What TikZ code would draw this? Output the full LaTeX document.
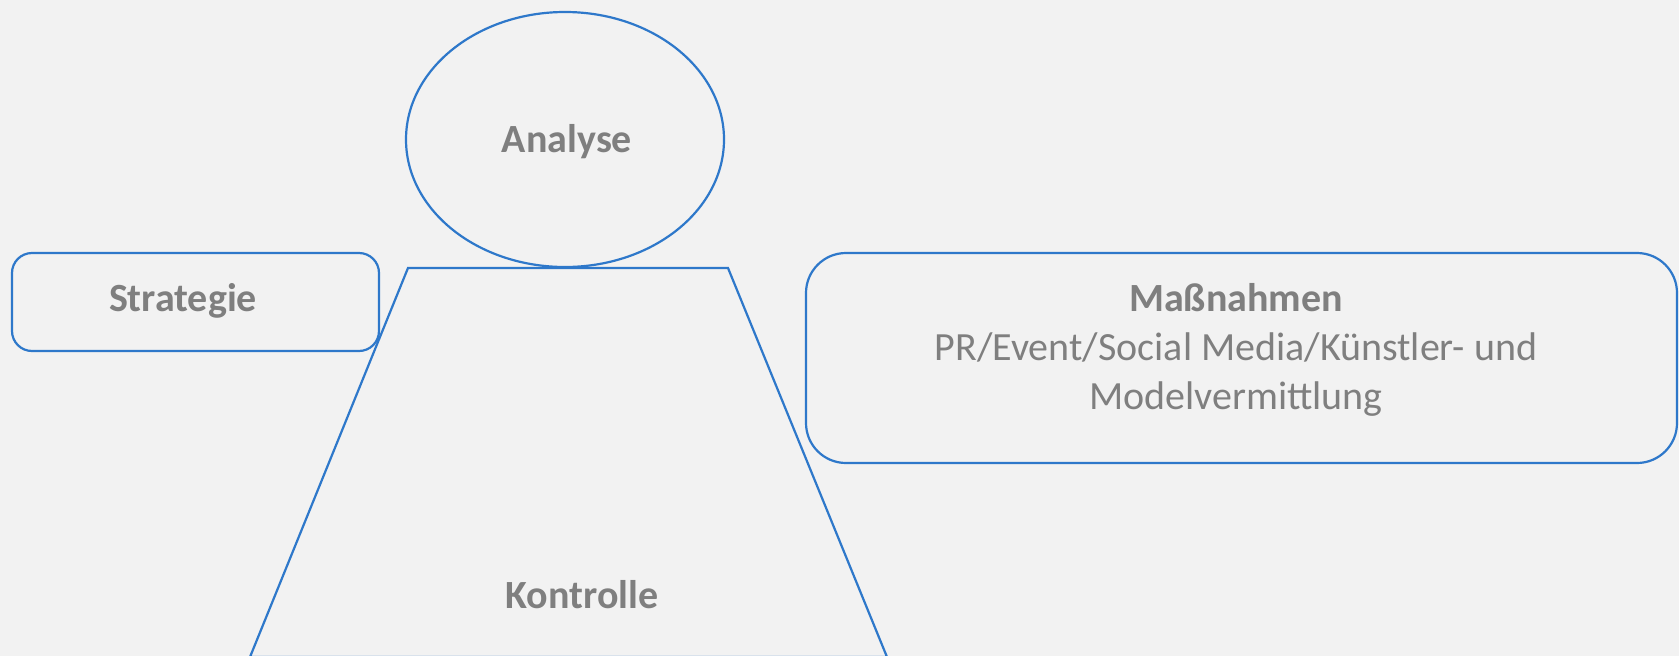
\documentclass[tikz,border=0pt]{standalone}
\usepackage{fontspec}
\setmainfont{Carlito}
\usetikzlibrary{shapes.geometric}

\definecolor{lineblue}{HTML}{2E78CA}
\definecolor{textgray}{HTML}{7F7F7F}
\definecolor{backgray}{HTML}{F2F2F2}

\tikzset{
  outline/.style={draw=lineblue, line width=2.2pt},
  boxshape/.style={outline, rectangle, inner sep=0pt},
  labeltext/.style={text=textgray, inner sep=0pt, font=\fontsize{40}{49}\selectfont},
  headtext/.style={labeltext, anchor=base, font=\fontsize{40}{49}\selectfont\bfseries},
}

\begin{document}
\begin{tikzpicture}[x=1pt, y=-1pt]
\useasboundingbox (0,0) rectangle (1679,656);
\fill [backgray] (0,0) rectangle (1679,656);

% analyse on top
\node [outline, ellipse, minimum width=318pt, minimum height=255pt] (analyse) at (565,139.5) {};
\node [headtext] (analyseText) at (567,152) {Analyse};

% kontrolle as trapezoid below
\coordinate (topleft) at (408,268);
\coordinate (topright) at (728,268);
\coordinate (bottomright) at (887,657);
\coordinate (bottomleft) at (250,657);
\draw [outline] (topleft) -- (topright) -- (bottomright) -- (bottomleft) -- cycle;
\node [headtext] (kontrolleText) at (582,608) {Kontrolle};

% strategie left
\node [boxshape, rounded corners=20pt, minimum width=367pt, minimum height=98pt] (strategie) at (195.5,302) {};
\node [headtext] (strategieText) at (183,311) {Strategie};

% massnahmen right
\node [boxshape, rounded corners=40pt, minimum width=871pt, minimum height=210pt] (massnahmen) at (1241.5,358) {};
\node [labeltext, align=center] (massnahmenText) at (1236,350)
  {\textbf{Maßnahmen}\\PR/Event/Social Media/Künstler- und\\Modelvermittlung};
\end{tikzpicture}
\end{document}
